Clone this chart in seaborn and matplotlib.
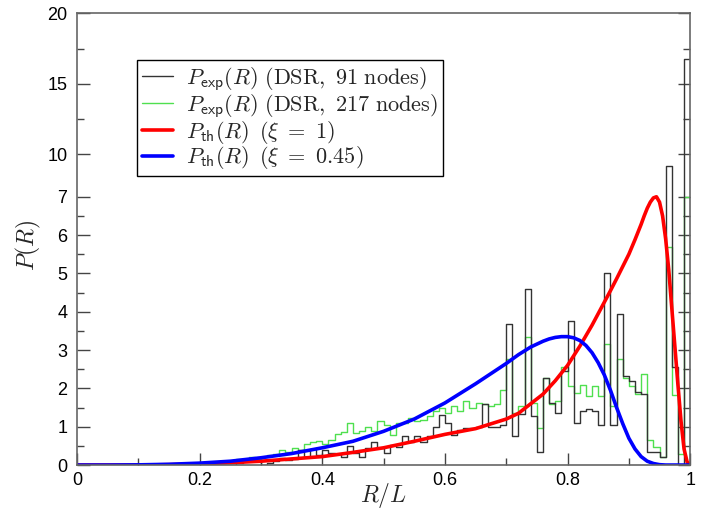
import numpy as np
import pandas as pd
import seaborn as sns
import matplotlib.pyplot as plt
from matplotlib.lines import Line2D
from matplotlib.ticker import FixedLocator

# histogram bins of width 0.01 on [0, 1]
bin_edges = [round(i * 0.01, 2) for i in range(101)]

# DSR, 91 nodes (black)
p_exp_91 = [0] * 25 + [
    0, 0.05, 0.1, 0.13, 0.13,
    0, 0.05, 0.1, 0.18, 0.12,
    0.15, 0.4, 0.2, 0.42, 0.25,
    0.38, 0.32, 0.3, 0.22, 0.5,
    0.31, 0.22, 0.44, 0.61, 0.44,
    0.31, 0.53, 0.48, 0.75, 0.61,
    0.75, 0.61, 0.75, 1.0, 1.3,
    1.1, 0.79, 0.92, 0.96, 0.96,
    1.0, 1.58, 1.0, 1.0, 1.05,
    3.68, 0.75, 1.32, 4.6, 1.27,
    0.35, 2.28, 1.62, 1.35, 2.46,
    3.77, 1.1, 1.4, 1.45, 1.4,
    1.05, 5.0, 1.05, 3.95, 2.33,
    2.19, 1.9, 1.85, 0.35, 0.35,
    0.22, 9.2, 2.55, 0.0, 16.8,
]

# DSR, 217 nodes (green)
p_exp_217 = [0] * 18 + [0.03, 0.03] + [
    0.05, 0.05, 0.08, 0.05, 0.1,
    0.1, 0.15, 0.12, 0.2, 0.15,
    0.2, 0.25, 0.3, 0.4, 0.35,
    0.45, 0.4, 0.55, 0.6, 0.62,
    0.55, 0.65, 0.82, 0.85, 1.1,
    0.83, 0.88, 1.0, 0.88, 1.14,
    1.05, 0.79, 1.1, 1.1, 1.23,
    1.14, 1.18, 1.27, 1.4, 1.49,
    1.36, 1.54, 1.4, 1.67, 1.49,
    1.62, 1.58, 1.54, 1.58, 1.97,
    2.76, 1.36, 1.54, 3.33, 1.62,
    0.96, 2.28, 1.58, 1.67, 2.55,
    2.06, 1.89, 2.1, 1.8, 2.06,
    1.8, 3.16, 1.54, 2.76, 2.28,
    2.06, 1.85, 2.37, 0.66, 0.48,
    0.22, 5.7, 1.84, 0.3, 7.0,
]

# theory, xi = 1 (red)
red_x = [0, 0.1, 0.15, 0.2, 0.25, 0.3, 0.35, 0.4, 0.45, 0.5, 0.55, 0.6, 0.65,
         0.7, 0.72, 0.74, 0.76, 0.78, 0.8, 0.82, 0.84, 0.86, 0.87, 0.88, 0.89,
         0.9, 0.91, 0.92, 0.925, 0.93, 0.935, 0.94, 0.945, 0.95, 0.955, 0.96,
         0.965, 0.97, 0.975, 0.98, 0.985, 0.99, 0.995, 1.0]
red_y = [0, 0, 0.01, 0.03, 0.06, 0.1, 0.16, 0.22, 0.33, 0.45, 0.62, 0.8, 0.95,
         1.2, 1.35, 1.6, 1.85, 2.2, 2.6, 3.1, 3.65, 4.25, 4.55, 4.86, 5.18,
         5.5, 5.88, 6.28, 6.5, 6.7, 6.86, 6.97, 7.0, 6.86, 6.5, 5.9,
         5.1, 4.1, 3.1, 2.1, 1.15, 0.42, 0.08, 0]

# theory, xi = 0.45 (blue)
blue_x = [0, 0.05, 0.1, 0.15, 0.2, 0.25, 0.3, 0.35, 0.4, 0.45, 0.5, 0.55, 0.6,
          0.65, 0.7, 0.72, 0.74, 0.76, 0.77, 0.78, 0.79, 0.8, 0.81, 0.82, 0.83,
          0.84, 0.85, 0.86, 0.87, 0.88, 0.89, 0.9, 0.91, 0.92, 0.93, 0.94, 0.95,
          0.96, 1.0]
blue_y = [0, 0, 0.005, 0.02, 0.05, 0.1, 0.19, 0.3, 0.45, 0.62, 0.88, 1.2, 1.62,
          2.12, 2.65, 2.88, 3.08, 3.23, 3.29, 3.33, 3.35, 3.35, 3.32, 3.25, 3.12,
          2.93, 2.67, 2.35, 1.95, 1.5, 1.08, 0.7, 0.42, 0.22, 0.1, 0.04, 0.01,
          0, 0]

labels = [r'$P_{\mathsf{exp}}(R)\ (\mathrm{DSR,\ 91\ nodes})$',
          r'$P_{\mathsf{exp}}(R)\ (\mathrm{DSR,\ 217\ nodes})$',
          r'$P_{\mathsf{th}}(R)\ \,(\xi\ =\ 1)$',
          r'$P_{\mathsf{th}}(R)\ \,(\xi\ =\ 0.45)$']

sns.set_style('ticks')
plt.rcParams['font.family'] = ['Liberation Sans', 'DejaVu Sans']
plt.rcParams['mathtext.fontset'] = 'cm'

# y axis is stretched below 7 and compressed above it
BRK, SQ = 7.0, 0.368


def fwd(v):
    v = np.asarray(v, dtype=float)
    return np.where(v <= BRK, v, BRK + (v - BRK) * SQ)


def inv(u):
    u = np.asarray(u, dtype=float)
    return np.where(u <= BRK, u, BRK + (u - BRK) / SQ)


fig = plt.figure(figsize=(7.13, 5.15), dpi=100)
ax = fig.add_axes([0.108, 0.097, 0.86, 0.877])

centers = [(a + b) / 2 for a, b in zip(bin_edges[:-1], bin_edges[1:])]
hist = pd.DataFrame({'R': centers, 'p91': p_exp_91, 'p217': p_exp_217})

sns.histplot(data=hist, x='R', weights='p217', bins=bin_edges, element='step',
             fill=False, color='#4fe04f', linewidth=1.0, ax=ax)
sns.histplot(data=hist, x='R', weights='p91', bins=bin_edges, element='step',
             fill=False, color='#333333', linewidth=1.0, ax=ax)
sns.lineplot(x=red_x, y=red_y, color='#ff0000', linewidth=2.6, ax=ax)
sns.lineplot(x=blue_x, y=blue_y, color='#0000ff', linewidth=2.6, ax=ax)

ax.set_yscale('function', functions=(fwd, inv))
ax.set_xlim(0, 1)
ax.set_ylim(0, 20)

ax.xaxis.set_major_locator(FixedLocator([0, 0.2, 0.4, 0.6, 0.8, 1.0]))
ax.xaxis.set_minor_locator(FixedLocator([0.1, 0.3, 0.5, 0.7, 0.9]))
ax.set_xticklabels(['0', '0.2', '0.4', '0.6', '0.8', '1'])
ax.yaxis.set_major_locator(FixedLocator([0, 1, 2, 3, 4, 5, 6, 7, 10, 15, 20]))
ax.yaxis.set_minor_locator(FixedLocator([0.5, 1.5, 2.5, 3.5, 4.5, 5.5, 6.5, 12.5, 17.5]))
ax.set_yticklabels(['0', '1', '2', '3', '4', '5', '6', '7', '10', '15', '20'])
ax.yaxis.set_minor_formatter(plt.NullFormatter())

ax.tick_params(which='both', direction='in', left=True, right=True, top=False,
               colors='#444444', labelcolor='black', labelsize=13)
ax.tick_params(which='major', length=9, width=1)
ax.tick_params(which='minor', length=5, width=1)
ax.tick_params(axis='y', pad=7)
ax.tick_params(axis='x', pad=5)
for sp in ax.spines.values():
    sp.set_color('#666666')
    sp.set_linewidth(1.2)

ax.set_xlabel(r'$R/L$', fontsize=17)
ax.xaxis.set_label_coords(0.5, -0.036)
ax.set_ylabel(r'$P(R)$', fontsize=17)
ax.yaxis.set_label_coords(-0.056, 0.487)

handles = [Line2D([], [], color='#333333', lw=1.0),
           Line2D([], [], color='#4fe04f', lw=1.0),
           Line2D([], [], color='#ff0000', lw=2.6),
           Line2D([], [], color='#0000ff', lw=2.6)]
leg = ax.legend(handles, labels, loc='upper left', bbox_to_anchor=(0.098, 0.897),
                borderaxespad=0, fancybox=False, framealpha=1, edgecolor='black',
                fontsize=16, labelspacing=-0.05, borderpad=0.22,
                handlelength=1.4, handletextpad=0.6)
leg.get_frame().set_linewidth(1.0)

fig.savefig('out.png', dpi=100)
